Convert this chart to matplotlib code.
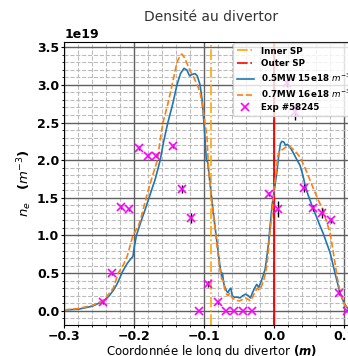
import numpy as np
import matplotlib
matplotlib.use("Agg")
import matplotlib.pyplot as plt
from matplotlib.ticker import MultipleLocator

# simulation 0.5MW, 15e18 (values in 1e19 m^-3)
x_05 = [-0.300, -0.280, -0.260, -0.246, -0.240, -0.235, -0.230, -0.225, -0.220, -0.218,
        -0.215, -0.210, -0.205, -0.202, -0.200, -0.197, -0.190, -0.185, -0.179, -0.170,
        -0.163, -0.158, -0.152, -0.145, -0.139, -0.134, -0.129, -0.125, -0.121, -0.117,
        -0.113, -0.110, -0.106, -0.103, -0.100, -0.097, -0.095, -0.093, -0.090, -0.087,
        -0.083, -0.080, -0.077, -0.075, -0.074, -0.072, -0.070, -0.068, -0.066, -0.064,
        -0.062, -0.060, -0.057, -0.053, -0.049, -0.045, -0.041, -0.037, -0.034, -0.031,
        -0.028, -0.025, -0.022, -0.019, -0.016, -0.013, -0.011, -0.008, -0.006, -0.003,
        0.000, 0.002, 0.004, 0.007, 0.009, 0.011, 0.014, 0.016, 0.019, 0.022,
        0.026, 0.030, 0.034, 0.037, 0.041, 0.044, 0.048, 0.052, 0.055, 0.060,
        0.065, 0.070, 0.075, 0.080, 0.087, 0.094, 0.100, 0.105, 0.110, 0.120]
y_05 = [0.01, 0.02, 0.06, 0.12, 0.16, 0.21, 0.27, 0.35, 0.45, 0.50,
        0.55, 0.63, 0.69, 0.72, 0.85, 1.00, 1.20, 1.33, 1.50, 1.75,
        2.00, 2.25, 2.50, 2.75, 3.00, 3.15, 3.22, 3.20, 3.12, 3.14,
        3.15, 3.12, 3.00, 2.80, 2.45, 2.00, 1.97, 1.80, 1.55, 1.30,
        1.00, 0.77, 0.56, 0.45, 0.50, 0.36, 0.30, 0.26, 0.24, 0.28,
        0.30, 0.20, 0.18, 0.18, 0.17, 0.20, 0.22, 0.20, 0.17, 0.24,
        0.30, 0.35, 0.31, 0.38, 0.46, 0.55, 0.68, 0.90, 1.11, 1.40,
        1.60, 1.72, 1.85, 2.10, 2.22, 2.25, 2.24, 2.20, 2.21, 2.18,
        2.12, 2.05, 1.98, 1.93, 1.80, 1.68, 1.55, 1.45, 1.37, 1.26,
        1.14, 1.03, 0.90, 0.77, 0.50, 0.24, 0.10, 0.03, 0.01, 0.00]

# simulation 0.7MW, 16e18
x_07 = [-0.300, -0.280, -0.260, -0.246, -0.240, -0.230, -0.223, -0.215, -0.210, -0.202,
        -0.194, -0.190, -0.183, -0.177, -0.167, -0.163, -0.159, -0.152, -0.146, -0.139,
        -0.135, -0.132, -0.128, -0.124, -0.120, -0.115, -0.110, -0.106, -0.103, -0.099,
        -0.096, -0.094, -0.091, -0.088, -0.084, -0.080, -0.077, -0.075, -0.073, -0.071,
        -0.068, -0.066, -0.063, -0.060, -0.055, -0.050, -0.045, -0.041, -0.037, -0.034,
        -0.030, -0.027, -0.024, -0.021, -0.018, -0.015, -0.012, -0.009, -0.006, -0.003,
        0.000, 0.003, 0.005, 0.008, 0.012, 0.016, 0.020, 0.024, 0.030, 0.037,
        0.044, 0.051, 0.058, 0.064, 0.070, 0.075, 0.080, 0.085, 0.090, 0.095,
        0.100, 0.105, 0.110, 0.120]
y_07 = [0.01, 0.03, 0.07, 0.13, 0.18, 0.30, 0.50, 0.62, 0.73, 1.00,
        1.13, 1.25, 1.50, 1.70, 2.00, 2.27, 2.50, 2.75, 3.00, 3.30,
        3.38, 3.41, 3.36, 3.27, 3.18, 3.10, 3.00, 2.90, 2.75, 2.50,
        2.30, 1.90, 1.62, 1.35, 1.05, 0.72, 0.52, 0.42, 0.40, 0.30,
        0.22, 0.20, 0.24, 0.17, 0.14, 0.13, 0.15, 0.17, 0.15, 0.13,
        0.20, 0.26, 0.30, 0.27, 0.33, 0.40, 0.52, 0.72, 1.05, 1.30,
        1.65, 1.85, 2.05, 2.13, 2.14, 2.17, 2.19, 2.17, 2.12, 2.04,
        1.90, 1.74, 1.58, 1.45, 1.34, 1.18, 1.03, 0.75, 0.45, 0.22,
        0.09, 0.02, 0.01, 0.00]

# experiment #58245
x_exp = [-0.245, -0.232, -0.219, -0.207, -0.194, -0.181, -0.169, -0.144, -0.132, -0.119,
         -0.107, -0.094, -0.081, -0.069, -0.057, -0.045, -0.032, -0.007, 0.006, 0.018,
         0.030, 0.043, 0.056, 0.068, 0.081, 0.093, 0.104]
y_exp = [0.11, 0.50, 1.38, 1.35, 2.16, 2.06, 2.06, 2.19, 1.62, 1.23,
         0.00, 0.35, 0.11, 0.00, 0.00, 0.00, 0.00, 1.55, 1.35, 3.02,
         2.64, 1.63, 1.36, 1.30, 1.20, 0.24, 0.00]
err_exp = [0.02, 0.02, 0.03, 0.02, 0.03, 0.02, 0.02, 0.03, 0.05, 0.07,
           0.00, 0.04, 0.02, 0.00, 0.00, 0.00, 0.00, 0.03, 0.11, 0.05,
           0.10, 0.05, 0.04, 0.07, 0.03, 0.03, 0.00]

inner_sp = -0.091
outer_sp = 0.0
scale = 1e19

fig = plt.figure(figsize=(3.48, 3.56), dpi=100)
ax = fig.add_axes([0.185, 0.087, 0.844, 0.795])

ax.axvline(inner_sp, color='orange', ls='-.', lw=1.2, label='Inner SP')
ax.axvline(outer_sp, color='red', ls='-.', lw=1.2, label='Outer SP')
ax.axvline(outer_sp, color='red', ls='-', lw=1.2)
ax.plot(x_05, np.array(y_05) * scale, color='#1f77b4', lw=1.2, label='0.5MW 15e18 $m^{-3}$')
ax.plot(x_07, np.array(y_07) * scale, color='#ff7f0e', ls='--', lw=1.2, label='0.7MW 16e18 $m^{-3}$')
ax.errorbar(x_exp, np.array(y_exp) * scale, yerr=np.array(err_exp) * scale, fmt='none',
            ecolor='black', elinewidth=1, zorder=4)
ax.plot(x_exp, np.array(y_exp) * scale, 'x', color='magenta', ms=6, mew=1.2,
        ls='none', label='Exp #58245', zorder=5)

ax.set_xlim(-0.3, 0.12)
ax.set_ylim(-0.19 * scale, 3.57 * scale)
ax.xaxis.set_major_locator(MultipleLocator(0.1))
ax.xaxis.set_minor_locator(MultipleLocator(0.02))
ax.yaxis.set_major_locator(MultipleLocator(0.5 * scale))
ax.yaxis.set_minor_locator(MultipleLocator(0.1 * scale))
ax.grid(which='major', color='#606060', lw=1.0, ls='-')
ax.grid(which='minor', color='#bbbbbb', lw=0.8, ls='--')
ax.set_axisbelow(True)

ax.tick_params(which='major', labelsize=9, length=2.5, pad=1.2)
ax.tick_params(which='minor', length=1.5)
for lab in ax.get_xticklabels() + ax.get_yticklabels():
    lab.set_fontweight('bold')
ax.yaxis.get_offset_text().set_fontweight('bold')
ax.yaxis.get_offset_text().set_fontsize(9)

ax.set_title('Densité au divertor', fontsize=10, color='#333333', pad=15)
ax.set_xlabel(r'Coordonnée le long du divertor $\boldsymbol{(m)}$', fontsize=8.5, labelpad=0)
ax.set_ylabel(r'$\boldsymbol{n_e}$   $\boldsymbol{(m^{-3})}$', fontsize=9.5, labelpad=2)

ax.legend(loc='upper left', bbox_to_anchor=(233 / 348, 1 - 43 / 356),
          bbox_transform=fig.transFigure, borderaxespad=0,
          prop={'weight': 'bold', 'size': 6.3}, framealpha=0.8, labelspacing=0.4)

fig.savefig('out.png', dpi=100)
